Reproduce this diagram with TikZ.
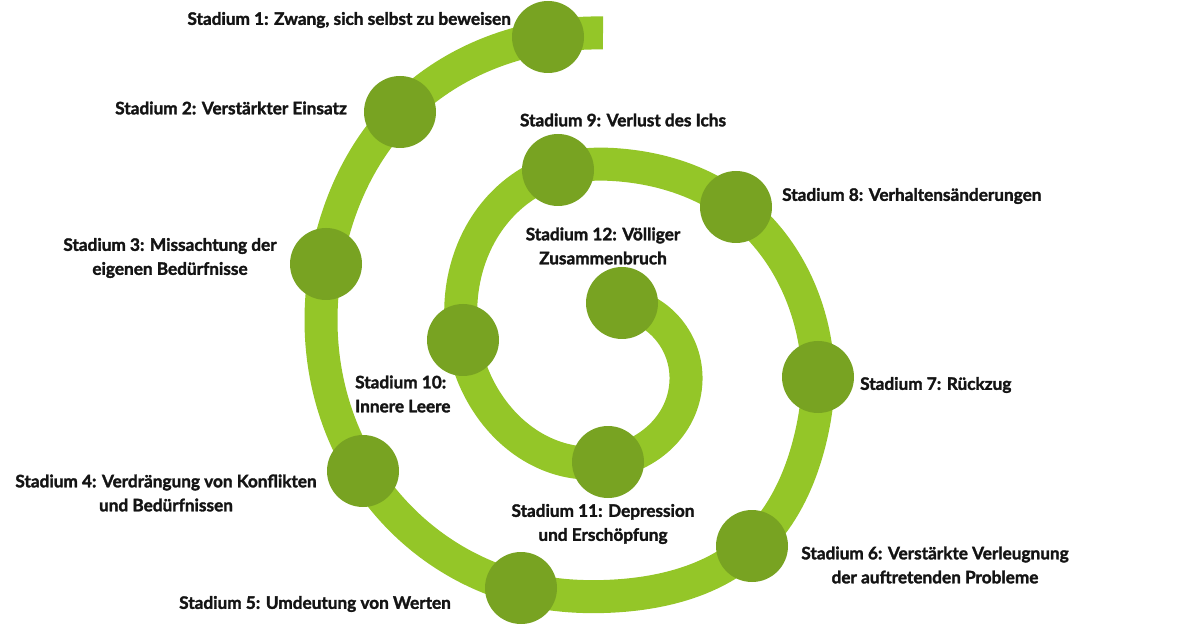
\documentclass[tikz,border=0pt]{standalone}
\usepackage{fontspec}
\setmainfont{Lato}[BoldFeatures={FakeBold=1.8}]
\usetikzlibrary{positioning,hobby}
\definecolor{spiralgreen}{RGB}{148,198,40}
\definecolor{stagegreen}{RGB}{120,163,34}
\definecolor{labelblack}{RGB}{20,20,20}

\begin{document}
\begin{tikzpicture}[
  x=1pt, y=-1pt,
  band/.style={
    draw=spiralgreen,
    line width=33pt,
    line cap=butt
    },
  stage/.style={
    circle,
    fill=stagegreen,
    minimum size=72pt,
    inner sep=0pt
    },
  stagelabel/.style={
    font=\fontsize{17.2}{24}\selectfont\bfseries,
    text=labelblack,
    inner sep=0pt,
    align=center
  }
]
\useasboundingbox (0,0) rectangle (1200,628);

% centres of the twelve stages
\foreach \Name/\X/\Y in {c1/548/37, c2/400/112, c3/326/264, c4/363/471, c5/521/588, c6/752/546,
                         c7/818/377, c8/736/207, c9/558/170, c10/463/340, c11/608/462, c12/622/303}
  \coordinate (\Name) at (\X,\Y);
% points between the stages
\foreach \Name/\X/\Y in {m0/603/33, m3/321/320, m5/615/596, m6/810/440, m7/810/320, m8/620/165, m11/686/380}
  \coordinate (\Name) at (\X,\Y);

\draw[band, use Hobby shortcut] (m0) .. (c1) .. (c2) .. (c3) .. (m3) .. (c4) .. (c5) .. (m5) .. (c6)
  .. (m6) .. (c7) .. (m7) .. (c8) .. (m8) .. (c9) .. (c10) .. (c11) .. (m11) .. (c12);

\foreach \i in {1,...,12}
  \node[stage] (s\i) at (c\i) {};

\node[stagelabel, anchor=east] (l1) at (511,20) {Stadium 1: Zwang, sich selbst zu beweisen};
\node[stagelabel, anchor=east] (l2) at (347,108) {Stadium 2: Verstärkter Einsatz};
\node[stagelabel] (l3) at (170,258) {Stadium 3: Missachtung der\\eigenen Bedürfnisse};
\node[stagelabel] (l4) at (166,493) {Stadium 4: Verdrängung von Konflikten\\und Bedürfnissen};
\node[stagelabel, anchor=east] (l5) at (451,604) {Stadium 5: Umdeutung von Werten};
\node[stagelabel] (l6) at (935,565) {Stadium 6: Verstärkte Verleugnung\\der auftretenden Probleme};
\node[stagelabel, anchor=west] (l7) at (860,385) {Stadium 7: Rückzug};
\node[stagelabel, anchor=west] (l8) at (782,196) {Stadium 8: Verhaltensänderungen};
\node[stagelabel] (l9) at (623,120) {Stadium 9: Verlust des Ichs};
\node[stagelabel, align=left, anchor=west] (l10) at (355,394) {Stadium 10:\\Innere Leere};
\node[stagelabel] (l11) at (603,524) {Stadium 11: Depression\\und Erschöpfung};
\node[stagelabel] (l12) at (603,246) {Stadium 12: Völliger\\Zusammenbruch};

\end{tikzpicture}
\end{document}
